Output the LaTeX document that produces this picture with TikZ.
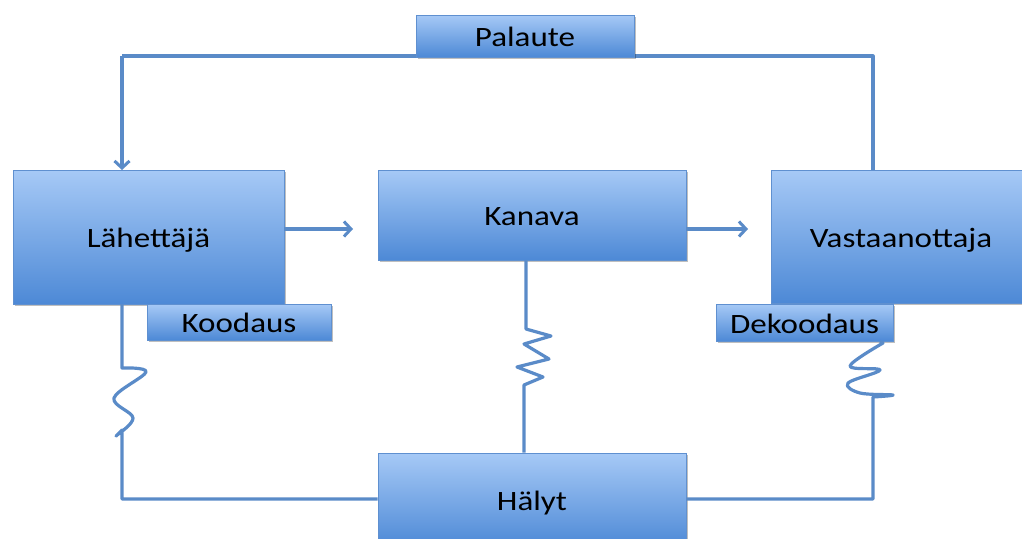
\documentclass[tikz,border=0pt]{standalone}
\usepackage{fontspec}
\setmainfont{Carlito}[FakeStretch=1.18]
\usetikzlibrary{arrows.meta,shadows}
\definecolor{boxtop}{HTML}{A6C9F6}
\definecolor{boxbot}{HTML}{4D89D6}
\definecolor{boxline}{HTML}{5F90D0}
\definecolor{wire}{HTML}{5A8BC8}
\tikzset{
  box/.style={draw=boxline, line width=0.8pt, top color=boxtop, bottom color=boxbot,
    inner sep=0pt, font=\fontsize{28}{30}\selectfont, text=black,
    text height=21pt, text depth=0pt,
    drop shadow={shadow xshift=1.5pt, shadow yshift=-2pt, opacity=0.25, fill=black}},
  wire/.style={draw=wire, line width=3.2pt, line join=round},
  arr/.style={wire, -{Straight Barb[length=7pt,width=15pt,line width=3pt]}}
}
\begin{document}
\begin{tikzpicture}[x=1pt,y=-1pt]
\useasboundingbox (0,0) rectangle (1022,538);
\clip (0,0) rectangle (1022,538);
% coordinates for wires
\coordinate (fbR) at (873,56);
\coordinate (fbL) at (122,56);
\coordinate (L) at (122,499);
\coordinate (R) at (873,499);
\coordinate (Mt) at (526,0);
% wires drawn before boxes
\path[wire] (873,170) -- (fbR) -- (fbL);
\draw[arr] (fbL) -- (122,170);
% boxes
\node[box, minimum width=218, minimum height=42] (pal) at (525,36) {Palaute};
\node[box, minimum width=271, minimum height=134] (lah) at (148.5,237) {Lähettäjä};
\node[box, minimum width=308, minimum height=90] (kan) at (532,215) {Kanava};
\node[box, minimum width=260, minimum height=133] (vas) at (901,236.5) {Vastaanottaja};
\node[box, minimum width=184, minimum height=36] (koo) at (239,322) {Koodaus};
\node[box, minimum width=177, minimum height=37] (dek) at (804.5,322.5) {Dekoodaus};
\node[box, minimum width=308, minimum height=94] (hal) at (532,500) {Hälyt};
% horizontal arrows
\draw[arr] (lah.east |- 0,229) -- (353,229);
\draw[arr] (kan.east |- 0,229) -- (748,229);
% noise wires
\draw[wire] (lah.south -| L) -- (122,368)
  -- plot[smooth, tension=0.6] coordinates {(122,368) (146,372) (114,398) (133,418) (116,436) (122,430)}
  -- (L) -- (hal.west |- L);
\draw[wire] (kan.south -| Mt) -- (526,329) -- (551,336) -- (524,344) -- (549,359) -- (517,367) -- (543,377) -- (524,385) -- (hal.north -| 524,0);
\draw[wire] (dek.south -| 880,0) -- (883,343)
  -- plot[smooth, tension=0.6] coordinates {(883,343) (850,366) (880,370) (848,383) (860,393) (893,395) (873,397)}
  -- (R) -- (hal.east |- R);
\end{tikzpicture}
\end{document}
